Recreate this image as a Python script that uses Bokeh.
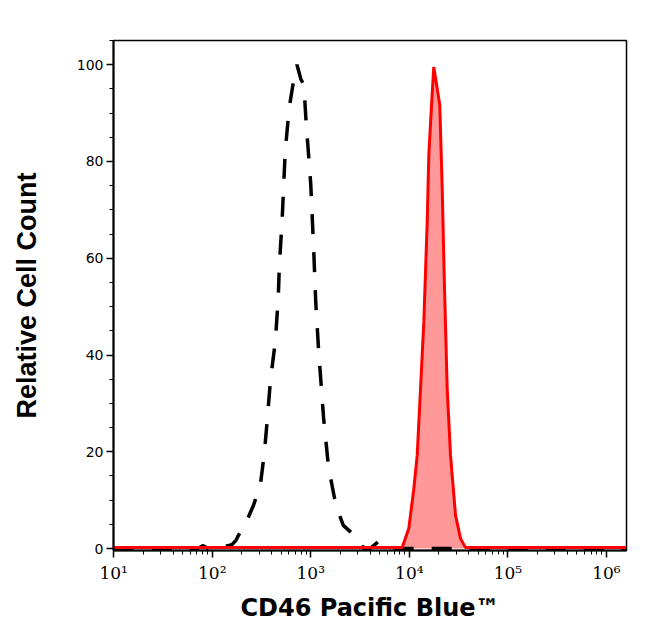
from bokeh.plotting import figure
from bokeh.models import Range1d, SingleIntervalTicker, LogTicker
from bokeh.embed import file_html
from bokeh.resources import INLINE

# Isotype control (black dashed) - fluorescence intensity vs relative count
ctrl_x = [10, 32, 71, 81, 91, 112, 132, 158, 174, 182, 200, 227, 263, 309, 339, 363,
          389, 437, 468, 479, 513, 550, 603, 661, 724, 794, 851, 891, 1000, 1072,
          1122, 1202, 1349, 1514, 1738, 1905, 2138, 2512, 2818, 3162, 3428, 3981,
          4898, 5495, 6166, 7079, 31623, 316228, 1584893]
ctrl_y = [0, 0, 0, 0.6, 0, 0, 0.4, 0.8, 1.7, 2.5, 4, 6, 9, 13.4, 20, 27,
          34.6, 42.9, 52, 58, 68.3, 82, 91, 96, 100, 97, 95.8, 89, 75.2, 61.4,
          51.1, 40.8, 27, 16.8, 10.5, 7.5, 4.8, 3.5, 2.5, 1.8, 0, 0,
          1.5, 0.8, 0.2, 0, 0, 0, 0]

# CD46 Pacific Blue stained (red filled)
stain_x = [9.5, 100, 1000, 6310, 8472, 9886, 11117, 12023, 13002, 14040, 15188,
           15770, 16800, 17700, 19180, 20380, 21570, 22760, 24230, 26180, 29430,
           33050, 37150, 100000, 1584893]
stain_y = [0.2, 0.2, 0.2, 0.2, 0.2, 4.2, 12.4, 19.3, 33.1, 46.9, 67.5,
           81.3, 91.6, 99.5, 95.1, 91.6, 74.4, 53.8, 33.1, 19.3, 6.9,
           2.1, 0.2, 0.2, 0.2]

x_tick_labels = {10: "10\u00b9", 100: "10\u00b2", 1000: "10\u00b3",
                 10000: "10\u2074", 100000: "10\u2075", 1000000: "10\u2076"}

p = figure(width=630, height=625, x_axis_type="log",
           x_range=Range1d(9.95, 1.6e6), y_range=Range1d(-0.4, 105),
           output_backend="svg", toolbar_location=None,
           min_border_left=113, min_border_right=4, min_border_top=40,
           min_border_bottom=75)

p.grid.visible = False
p.background_fill_color = "white"
p.border_fill_color = "white"
p.outline_line_color = "black"
p.outline_line_width = 1.5

p.varea(x=stain_x, y1=[0] * len(stain_x), y2=stain_y, fill_color="#ff9999")
p.line(ctrl_x, ctrl_y, line_color="black", line_width=3.5, line_dash="20 18")
p.line(stain_x, stain_y, line_color="#ff0000", line_width=3)

# Y axis
p.yaxis.ticker = SingleIntervalTicker(interval=20, num_minor_ticks=4)
p.yaxis.axis_label = "Relative Cell Count"
p.yaxis.axis_label_text_font = "Liberation Sans"
p.yaxis.axis_label_text_font_style = "bold"
p.yaxis.axis_label_text_font_size = "27px"
p.yaxis.axis_label_text_color = "black"
p.yaxis.axis_label_standoff = 32
p.yaxis.major_label_text_font = "DejaVu Sans"
p.yaxis.major_label_text_font_size = "14px"
p.yaxis.major_label_text_color = "black"
p.yaxis.major_label_standoff = 3

# X axis
p.xaxis.ticker = LogTicker(num_minor_ticks=10)
p.xaxis.major_label_overrides = x_tick_labels
p.xaxis.axis_label = "CD46 Pacific Blue\u2122"
p.xaxis.axis_label_text_font = "DejaVu Sans"
p.xaxis.axis_label_text_font_style = "bold"
p.xaxis.axis_label_text_font_size = "24px"
p.xaxis.axis_label_text_color = "black"
p.xaxis.axis_label_standoff = 8
p.xaxis.major_label_text_font = "DejaVu Serif"
p.xaxis.major_label_text_font_size = "17px"
p.xaxis.major_label_text_color = "black"
p.xaxis.major_label_standoff = 5

for ax in (p.xaxis, p.yaxis):
    ax.axis_line_width = 2
    ax.axis_line_color = "black"
    ax.major_tick_line_color = "black"
    ax.minor_tick_line_color = "black"
    ax.major_tick_line_width = 1.5
    ax.major_tick_out = 7
    ax.major_tick_in = 0
    ax.minor_tick_out = 4
    ax.minor_tick_in = 0

open("out.html", "w").write(file_html(p, INLINE))
